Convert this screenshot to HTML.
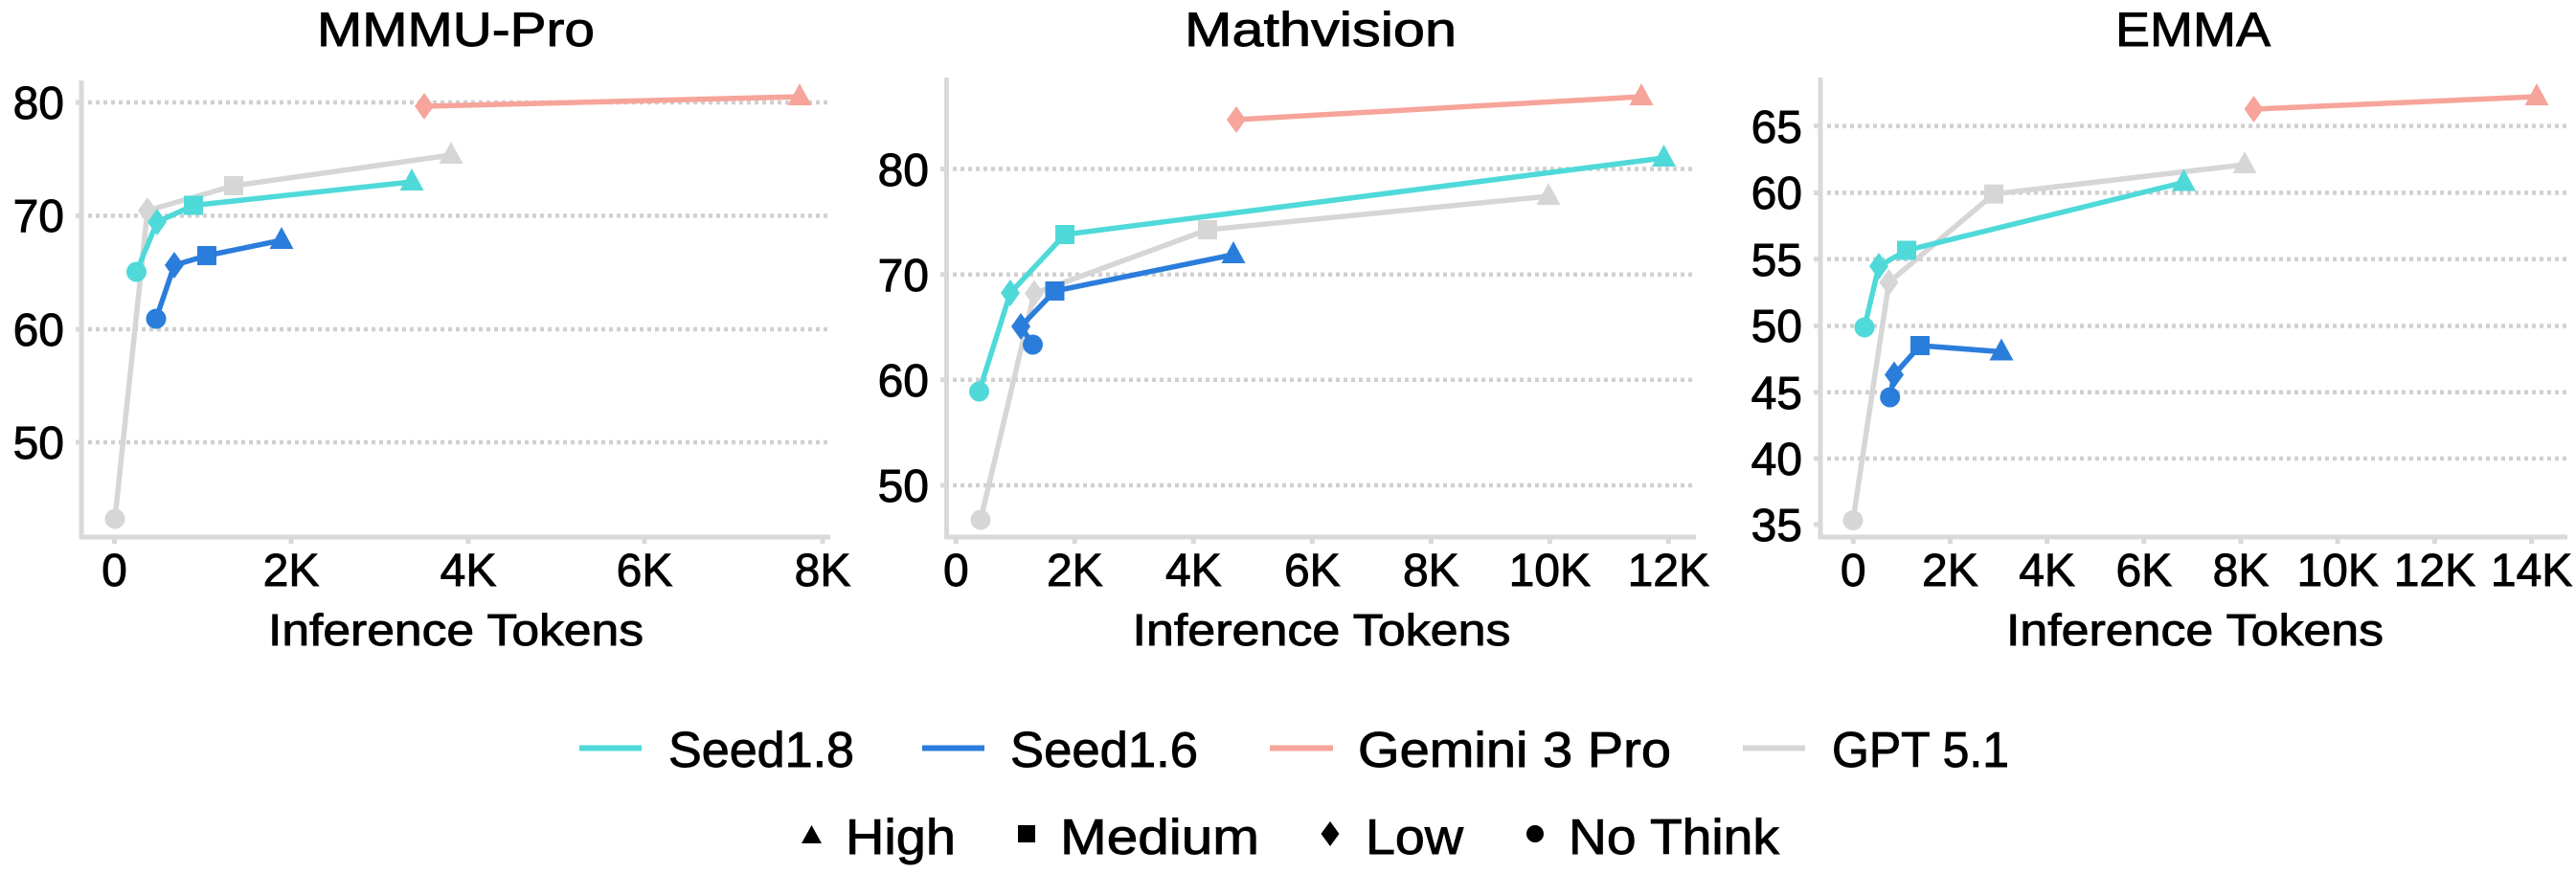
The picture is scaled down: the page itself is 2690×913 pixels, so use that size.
<!DOCTYPE html>
<html><head><meta charset="utf-8"><style>
html,body{margin:0;padding:0;background:#fff;}
svg{display:block;}
text{font-family:"Liberation Sans",sans-serif;fill:#000;stroke:#000;stroke-width:0.9;}
</style></head><body>
<svg width="2690" height="913" viewBox="0 0 2690 913" xmlns="http://www.w3.org/2000/svg">
<defs>
<polygon id="tri" points="0,-14 12.5,9 -12.5,9"/>
<rect id="sq" x="-10" y="-10" width="20" height="20"/>
<polygon id="dia" points="0,-14 10,0 0,14 -10,0"/>
<circle id="cir" r="10.5"/>
</defs>

<!-- ===== Panel 1 ===== -->
<g stroke="#d0d0d0" stroke-width="4.5" stroke-dasharray="4 4">
<line x1="92" y1="107" x2="867" y2="107"/><line x1="92" y1="225.4" x2="867" y2="225.4"/>
<line x1="92" y1="344" x2="867" y2="344"/><line x1="92" y1="462" x2="867" y2="462"/>
</g>
<g stroke="#d9d9d9" stroke-width="5" fill="none">
<line x1="85" y1="84" x2="85" y2="563"/><line x1="83" y1="561" x2="867" y2="561"/>
<line x1="79" y1="107" x2="85" y2="107"/><line x1="79" y1="225.4" x2="85" y2="225.4"/><line x1="79" y1="344" x2="85" y2="344"/><line x1="79" y1="462" x2="85" y2="462"/>
<line x1="119.5" y1="561" x2="119.5" y2="568"/><line x1="304" y1="561" x2="304" y2="568"/><line x1="489" y1="561" x2="489" y2="568"/><line x1="673" y1="561" x2="673" y2="568"/><line x1="859" y1="561" x2="859" y2="568"/>
</g>
<g font-size="48" text-anchor="end">
<text x="67" y="124">80</text><text x="67" y="242">70</text><text x="67" y="361">60</text><text x="67" y="479">50</text>
</g>
<g font-size="48" text-anchor="middle">
<text x="119.5" y="612">0</text><text x="304" y="612">2K</text><text x="489" y="612">4K</text><text x="673" y="612">6K</text><text x="859" y="612">8K</text>
</g>
<text x="476" y="48" font-size="50" text-anchor="middle" textLength="290" lengthAdjust="spacingAndGlyphs">MMMU-Pro</text>
<text x="476" y="674" font-size="46" text-anchor="middle" textLength="392" lengthAdjust="spacingAndGlyphs">Inference Tokens</text>

<g fill="none" stroke-width="5.5" stroke-linejoin="round">
<polyline stroke="#d6d6d6" points="120,542 154,220 244,194 471,162"/>
<polyline stroke="#f7a49a" points="443,111 835,101"/>
<polyline stroke="#2b7ddb" points="163,333 182,277 216,267 294,251"/>
<polyline stroke="#4fd9d9" points="142.5,284 164,232 202,214.5 430,190"/>
</g>
<g fill="#d6d6d6"><use href="#cir" x="120" y="542"/><use href="#dia" x="154" y="220"/><use href="#sq" x="244" y="194"/><use href="#tri" x="471" y="162"/></g>
<g fill="#f7a49a"><use href="#dia" x="443" y="111"/><use href="#tri" x="835" y="101"/></g>
<g fill="#2b7ddb"><use href="#cir" x="163" y="333"/><use href="#dia" x="182" y="277"/><use href="#sq" x="216" y="267"/><use href="#tri" x="294" y="251"/></g>
<g fill="#4fd9d9"><use href="#cir" x="142.5" y="284"/><use href="#dia" x="164" y="232"/><use href="#sq" x="202" y="214.5"/><use href="#tri" x="430" y="190"/></g>

<!-- ===== Panel 2 ===== -->
<g stroke="#d0d0d0" stroke-width="4.5" stroke-dasharray="4 4">
<line x1="995" y1="176.5" x2="1771" y2="176.5"/><line x1="995" y1="286.8" x2="1771" y2="286.8"/>
<line x1="995" y1="396.7" x2="1771" y2="396.7"/><line x1="995" y1="507" x2="1771" y2="507"/>
</g>
<g stroke="#d9d9d9" stroke-width="5" fill="none">
<line x1="988.5" y1="81" x2="988.5" y2="563"/><line x1="986.5" y1="561" x2="1771" y2="561"/>
<line x1="982" y1="176.5" x2="988.5" y2="176.5"/><line x1="982" y1="286.8" x2="988.5" y2="286.8"/><line x1="982" y1="396.7" x2="988.5" y2="396.7"/><line x1="982" y1="507" x2="988.5" y2="507"/>
<line x1="998.3" y1="561" x2="998.3" y2="568"/><line x1="1122.3" y1="561" x2="1122.3" y2="568"/><line x1="1246.3" y1="561" x2="1246.3" y2="568"/><line x1="1370.3" y1="561" x2="1370.3" y2="568"/><line x1="1494.3" y1="561" x2="1494.3" y2="568"/><line x1="1618.3" y1="561" x2="1618.3" y2="568"/><line x1="1742.3" y1="561" x2="1742.3" y2="568"/>
</g>
<g font-size="48" text-anchor="end">
<text x="970" y="194">80</text><text x="970" y="304">70</text><text x="970" y="414">60</text><text x="970" y="524">50</text>
</g>
<g font-size="48" text-anchor="middle">
<text x="998.3" y="612">0</text><text x="1122.3" y="612">2K</text><text x="1246.3" y="612">4K</text><text x="1370.3" y="612">6K</text><text x="1494.3" y="612">8K</text><text x="1618.3" y="612">10K</text><text x="1742.3" y="612">12K</text>
</g>
<text x="1379" y="48" font-size="50" text-anchor="middle" textLength="284" lengthAdjust="spacingAndGlyphs">Mathvision</text>
<text x="1380" y="674" font-size="46" text-anchor="middle" textLength="395" lengthAdjust="spacingAndGlyphs">Inference Tokens</text>

<g fill="none" stroke-width="5.5" stroke-linejoin="round">
<polyline stroke="#d6d6d6" points="1024,543 1080,306.5 1261,240 1617,205"/>
<polyline stroke="#f7a49a" points="1291,125 1714,101"/>
<polyline stroke="#2b7ddb" points="1078.5,360 1066,341 1101.5,304 1288,266"/>
<polyline stroke="#4fd9d9" points="1022.5,409 1055,306 1112,245 1737.5,165"/>
</g>
<g fill="#d6d6d6"><use href="#cir" x="1024" y="543"/><use href="#dia" x="1080" y="306.5"/><use href="#sq" x="1261" y="240"/><use href="#tri" x="1617" y="205"/></g>
<g fill="#f7a49a"><use href="#dia" x="1291" y="125"/><use href="#tri" x="1714" y="101"/></g>
<g fill="#2b7ddb"><use href="#cir" x="1078.5" y="360"/><use href="#dia" x="1066" y="341"/><use href="#sq" x="1101.5" y="304"/><use href="#tri" x="1288" y="266"/></g>
<g fill="#4fd9d9"><use href="#cir" x="1022.5" y="409"/><use href="#dia" x="1055" y="306"/><use href="#sq" x="1112" y="245"/><use href="#tri" x="1737.5" y="165"/></g>

<!-- ===== Panel 3 ===== -->
<g stroke="#d0d0d0" stroke-width="4.5" stroke-dasharray="4 4">
<line x1="1908" y1="131.6" x2="2684" y2="131.6"/><line x1="1908" y1="201.4" x2="2684" y2="201.4"/>
<line x1="1908" y1="270.7" x2="2684" y2="270.7"/><line x1="1908" y1="340.5" x2="2684" y2="340.5"/>
<line x1="1908" y1="409.8" x2="2684" y2="409.8"/><line x1="1908" y1="479" x2="2684" y2="479"/>
</g>
<g stroke="#d9d9d9" stroke-width="5" fill="none">
<line x1="1901" y1="81" x2="1901" y2="563"/><line x1="1899" y1="561" x2="2681" y2="561"/>
<line x1="1894" y1="131.6" x2="1901" y2="131.6"/><line x1="1894" y1="201.4" x2="1901" y2="201.4"/><line x1="1894" y1="270.7" x2="1901" y2="270.7"/><line x1="1894" y1="340.5" x2="1901" y2="340.5"/><line x1="1894" y1="409.8" x2="1901" y2="409.8"/><line x1="1894" y1="479" x2="1901" y2="479"/><line x1="1894" y1="548" x2="1901" y2="548"/>
<line x1="1935.2" y1="561" x2="1935.2" y2="568"/><line x1="2036.4" y1="561" x2="2036.4" y2="568"/><line x1="2137.6" y1="561" x2="2137.6" y2="568"/><line x1="2238.8" y1="561" x2="2238.8" y2="568"/><line x1="2340" y1="561" x2="2340" y2="568"/><line x1="2441.2" y1="561" x2="2441.2" y2="568"/><line x1="2542.4" y1="561" x2="2542.4" y2="568"/><line x1="2643.6" y1="561" x2="2643.6" y2="568"/>
</g>
<g font-size="48" text-anchor="end">
<text x="1882" y="149">65</text><text x="1882" y="218">60</text><text x="1882" y="288">55</text><text x="1882" y="357">50</text><text x="1882" y="427">45</text><text x="1882" y="496">40</text><text x="1882" y="565">35</text>
</g>
<g font-size="48" text-anchor="middle">
<text x="1935.2" y="612">0</text><text x="2036.4" y="612">2K</text><text x="2137.6" y="612">4K</text><text x="2238.8" y="612">6K</text><text x="2340" y="612">8K</text><text x="2441.2" y="612">10K</text><text x="2542.4" y="612">12K</text><text x="2643.6" y="612">14K</text>
</g>
<text x="2290" y="48" font-size="50" text-anchor="middle" textLength="162" lengthAdjust="spacingAndGlyphs">EMMA</text>
<text x="2292" y="674" font-size="46" text-anchor="middle" textLength="394" lengthAdjust="spacingAndGlyphs">Inference Tokens</text>

<g fill="none" stroke-width="5.5" stroke-linejoin="round">
<polyline stroke="#d6d6d6" points="1935,543.6 1972.5,295 2082,202.7 2344,172"/>
<polyline stroke="#f7a49a" points="2353.5,114 2649,101"/>
<polyline stroke="#2b7ddb" points="1973.7,415 1978,391.5 2005,361 2090,367.5"/>
<polyline stroke="#4fd9d9" points="1947,342 1962,278 1991,261.5 2280.5,190.5"/>
</g>
<g fill="#d6d6d6"><use href="#cir" x="1935" y="543.6"/><use href="#dia" x="1972.5" y="295"/><use href="#sq" x="2082" y="202.7"/><use href="#tri" x="2344" y="172"/></g>
<g fill="#f7a49a"><use href="#dia" x="2353.5" y="114"/><use href="#tri" x="2649" y="101"/></g>
<g fill="#2b7ddb"><use href="#cir" x="1973.7" y="415"/><use href="#dia" x="1978" y="391.5"/><use href="#sq" x="2005" y="361"/><use href="#tri" x="2090" y="367.5"/></g>
<g fill="#4fd9d9"><use href="#cir" x="1947" y="342"/><use href="#dia" x="1962" y="278"/><use href="#sq" x="1991" y="261.5"/><use href="#tri" x="2280.5" y="190.5"/></g>

<!-- ===== Legend ===== -->
<g stroke-width="6">
<line x1="605" y1="781.5" x2="670" y2="781.5" stroke="#4fd9d9"/>
<line x1="963" y1="781.5" x2="1028" y2="781.5" stroke="#2b7ddb"/>
<line x1="1326" y1="781.5" x2="1392" y2="781.5" stroke="#f7a49a"/>
<line x1="1820" y1="781.5" x2="1885" y2="781.5" stroke="#d6d6d6"/>
</g>
<g font-size="52">
<text x="698" y="801" textLength="194" lengthAdjust="spacingAndGlyphs">Seed1.8</text>
<text x="1055" y="801" textLength="196" lengthAdjust="spacingAndGlyphs">Seed1.6</text>
<text x="1418" y="801" textLength="327" lengthAdjust="spacingAndGlyphs">Gemini 3 Pro</text>
<text x="1913" y="801" textLength="185" lengthAdjust="spacingAndGlyphs">GPT 5.1</text>
</g>
<g fill="#000">
<polygon points="847.5,862 858,881 837,881"/>
<rect x="1063" y="862" width="18" height="18"/>
<polygon points="1389,858 1398.5,871 1389,884 1379.5,871"/>
<circle cx="1603" cy="871" r="9"/>
</g>
<g font-size="52">
<text x="883" y="892" textLength="115" lengthAdjust="spacingAndGlyphs">High</text>
<text x="1107" y="892" textLength="208" lengthAdjust="spacingAndGlyphs">Medium</text>
<text x="1426" y="892" textLength="102" lengthAdjust="spacingAndGlyphs">Low</text>
<text x="1638" y="892" textLength="220" lengthAdjust="spacingAndGlyphs">No Think</text>
</g>
</svg>
</body></html>
